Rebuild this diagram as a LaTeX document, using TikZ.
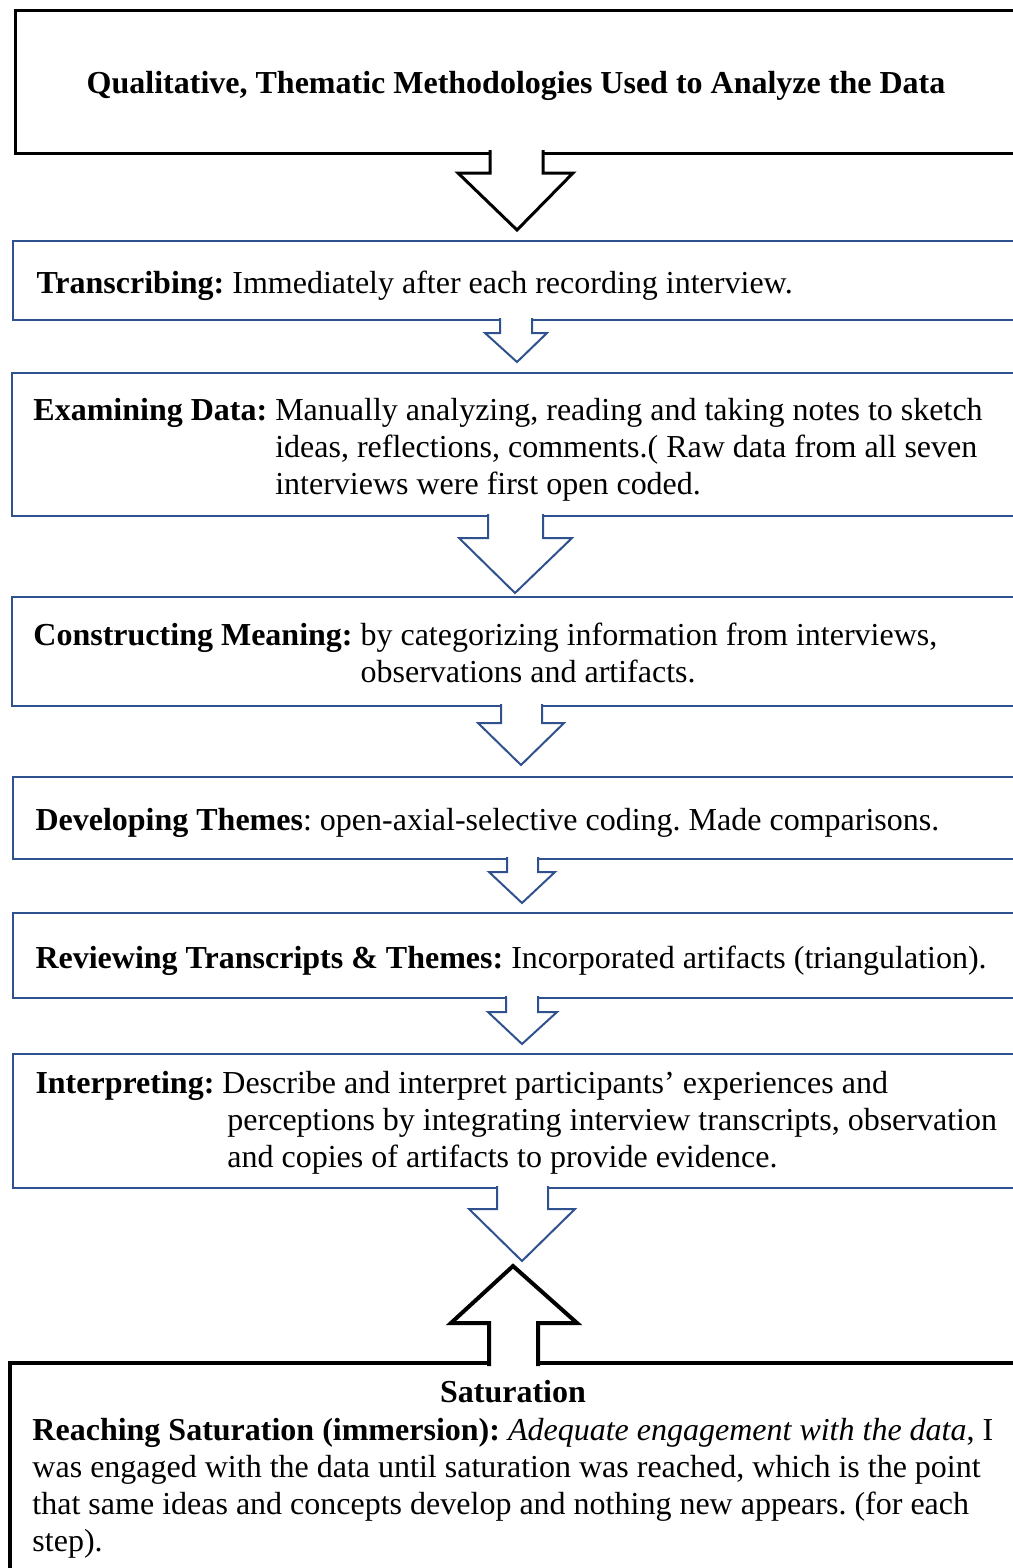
\documentclass[tikz,border=0pt]{standalone}
\usepackage{fontspec}
\setmainfont{Liberation Serif}
\frenchspacing
\definecolor{stepblue}{RGB}{47,82,143}
\tikzset{every picture/.style={line width=0.75pt}}
\tikzset{
  stepbox/.style={draw=stepblue, line width=1.5pt},
  steparrow/.style={draw=stepblue, line width=1.5pt, fill=white, line join=miter},
  heavybox/.style={draw=black, line width=2.25pt},
  heavyarrow/.style={draw=black, line width=2.25pt, fill=white, line join=miter},
  steptext/.style={anchor=base west, inner sep=0pt}
}

\begin{document}
\begin{tikzpicture}[x=0.75pt,y=0.75pt,yscale=-1,xscale=1,font=\fontsize{24}{27.75}\selectfont\frenchspacing]
	\useasboundingbox (0,0) rectangle (1013,1568);
	\clip (0,0) rectangle (1013,1568);

	%title
	\draw [heavybox] (15,10) rectangle (1040,153);
	\draw (516,93) node [anchor=base, inner sep=0pt] (title) {\textbf{Qualitative, Thematic Methodologies Used to Analyze the Data}};
	\draw [heavyarrow] (490,150) -- (490,173) -- (458,173) -- (517,230) -- (573,173) -- (543,173) -- (543,150);

	\draw [stepbox] (13,241) rectangle (1040,320);
	\draw (36,293) node [steptext] (transcribing) {\textbf{Transcribing:} Immediately after each recording interview.};
	\draw [steparrow] (500,318) -- (500,333) -- (485,333) -- (517,362) -- (547,333) -- (532,333) -- (532,318);

	\draw [stepbox] (12,373) rectangle (1040,516);
	\draw (33,420) node [steptext] (examining) {\begin{tabular}[t]{@{}l@{\ }l@{}}
		\textbf{Examining Data:} & Manually analyzing, reading and taking notes to sketch\\
		& ideas, reflections, comments.( Raw data from all seven\\
		& interviews were first open coded.
	\end{tabular}};
	\draw [steparrow] (488,514) -- (488,538) -- (459,538) -- (515,593) -- (572,538) -- (543,538) -- (543,514);

	\draw [stepbox] (12,597) rectangle (1040,706);
	\draw (33,645) node [steptext] (constructing) {\begin{tabular}[t]{@{}l@{\ }l@{}}
		\textbf{Constructing Meaning:} & by categorizing information from interviews,\\
		& observations and artifacts.
	\end{tabular}};
	\draw [steparrow] (501,704) -- (501,723) -- (478,723) -- (521,765) -- (564,723) -- (542,723) -- (542,704);

	\draw [stepbox] (13,777) rectangle (1040,859);
	\draw (35,830) node [steptext] (developing) {\textbf{Developing Themes}: open-axial-selective coding. Made comparisons.};
	\draw [steparrow] (507,857) -- (507,872) -- (489,872) -- (522,903) -- (555,872) -- (538,872) -- (538,857);

	\draw [stepbox] (13,913) rectangle (1040,998);
	\draw (35,968) node [steptext] (reviewing) {\textbf{Reviewing Transcripts \& Themes:} Incorporated artifacts (triangulation).};
	\draw [steparrow] (506,996) -- (506,1012) -- (488,1012) -- (522,1044) -- (557,1012) -- (538,1012) -- (538,996);

	\draw [stepbox] (13,1054) rectangle (1040,1188);
	\draw (35,1093) node [steptext] (interpreting) {\begin{tabular}[t]{@{}l@{\ }l@{}}
		\textbf{Interpreting:} & Describe and interpret participants' experiences and\\
		& \hspace{3.75pt}perceptions by integrating interview transcripts, observation\\
		& \hspace{3.75pt}and copies of artifacts to provide evidence.
	\end{tabular}};
	\draw [steparrow] (497,1186) -- (497,1209) -- (469,1209) -- (522,1261) -- (575,1209) -- (548,1209) -- (548,1186);

	%saturation
	\draw [heavybox, line width=3pt] (10,1363) rectangle (1040,1600);
	\draw [heavyarrow, line width=3pt] (489,1366) -- (489,1323) -- (451,1323) -- (513,1266) -- (577,1323) -- (538,1323) -- (538,1366);
	\draw (513,1402) node [anchor=base, inner sep=0pt] (saturation) {\textbf{Saturation}};
	\draw (32,1440) node [steptext] (reaching) {\begin{tabular}[t]{@{}l@{}}
		\textbf{Reaching Saturation (immersion):} \textit{Adequate engagement with the data}, I\\
		was engaged with the data until saturation was reached, which is the point\\
		that same ideas and concepts develop and nothing new appears. (for each\\
		step).
	\end{tabular}};

\end{tikzpicture}
\end{document}
